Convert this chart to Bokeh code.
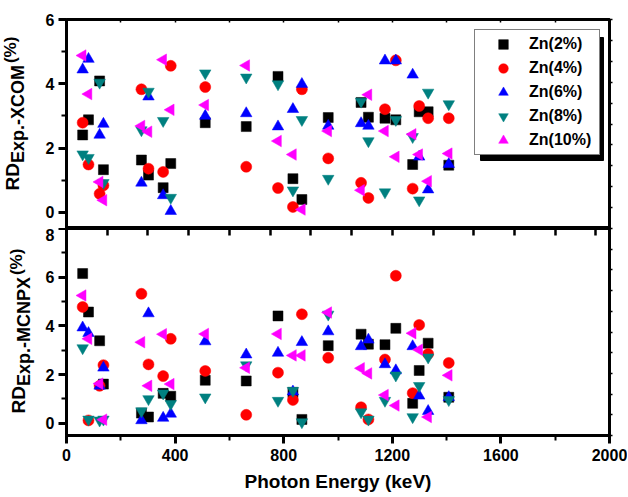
import numpy as np
from bokeh.plotting import figure
from bokeh.layouts import column, row
from bokeh.models import (Range1d, LinearAxis, FixedTicker, Legend, LegendItem,
                          BoxAnnotation)
from bokeh.core.properties import value
from bokeh.embed import file_html
from bokeh.resources import INLINE

# ---------------- data ----------------
energy = [59.5, 81, 122, 136, 276, 302, 356, 384, 511, 662, 779, 834, 867, 964,
          1085, 1112, 1173, 1213, 1275, 1299, 1332, 1408]

xcom_zn2 = [2.41, 2.88, 4.09, 1.33, 1.63, 1.16, 0.77, 1.52, 2.79, 2.67, 4.23, 1.05,
            0.40, 2.95, 3.42, 2.96, 2.93, 2.88, 1.49, 3.13, 3.13, 1.47]
xcom_zn4 = [2.79, 1.49, 0.58, 0.84, 3.83, 1.36, 1.26, 4.56, 3.90, 1.42, 0.76, 0.17,
            3.83, 1.68, 0.92, 0.45, 3.21, 4.73, 0.74, 3.31, 2.93, 2.93]
xcom_zn6 = [4.44, 4.77, 2.41, 2.75, 0.92, 3.60, 0.53, 0.04, 3.00, 3.08, 2.67, 3.21,
            3.99, 2.69, 2.77, 2.69, 4.72, 4.72, 4.28, 1.73, 0.71, 1.50]
xcom_zn8 = [1.81, 1.70, 4.04, 0.92, 2.56, 3.76, 2.85, 0.46, 4.33, 4.20, 3.99, 0.69,
            2.88, 1.05, 3.45, 2.22, 0.63, 2.88, 2.35, 0.38, 3.73, 3.37]
xcom_zn10 = [4.88, 3.68, 0.95, 0.38, 2.69, 2.51, 4.75, 3.19, 3.34, 4.57, 2.22, 1.80,
             0.09, 2.53, 0.69, 3.66, 2.53, 1.73, 2.43, 1.80, 0.97, 1.83]

mcnpx_zn2 = [6.15, 4.57, 3.39, 1.61, 0.42, 0.26, 1.23, 1.11, 1.77, 1.74, 4.41, 1.27,
             0.16, 3.19, 3.66, 3.25, 3.23, 3.90, 0.82, 2.17, 3.29, 1.07]
mcnpx_zn4 = [4.78, 0.12, 1.54, 2.39, 5.32, 2.42, 1.94, 3.47, 2.15, 0.35, 2.08, 0.96,
             4.48, 2.69, 0.66, 0.16, 2.62, 6.06, 1.24, 4.04, 2.85, 2.48]
mcnpx_zn6 = [3.93, 3.70, 1.54, 2.28, 0.12, 4.51, 0.22, 0.39, 3.36, 2.82, 2.89, 1.30,
             3.33, 3.77, 3.16, 3.43, 2.42, 2.17, 3.16, 1.13, 0.50, 1.07]
mcnpx_zn8 = [3.09, 0.16, 0.12, 0.16, 0.50, 1.00, 1.23, 0.80, 1.07, 2.39, 0.93, 1.34,
             0.05, 4.47, 0.46, 0.16, 0.93, 1.97, 0.26, 1.54, 2.71, 0.96]
mcnpx_zn10 = [5.25, 3.47, 1.63, 0.15, 3.33, 1.54, 3.66, 1.61, 3.67, 2.28, 3.67, 2.79,
              2.79, 4.55, 2.26, 2.05, 1.16, 0.73, 3.70, 3.02, 0.26, 1.97]

series_labels = ["Zn(2%)", "Zn(4%)", "Zn(6%)", "Zn(8%)", "Zn(10%)"]
x_ticks = [0, 400, 800, 1200, 1600, 2000]
x_minor = [200, 600, 1000, 1400, 1800]

# ---------------- style ----------------
FONT = "Liberation Sans"
colors = ["#000000", "#FF0000", "#0000FF", "#008080", "#FF00FF"]
markers = ["square", "circle", "triangle", "inverted_triangle", "triangle"]
angles = [0, 0, 0, 0, np.pi / 2]
sizes = [10, 11, 11.5, 11.5, 11.5]
LABEL_W = 42
MAIN_W = 585
TOP_H = 228
BOT_H = 268


def make_fig(height, ymin, ymax, btop, bbottom):
    p = figure(width=MAIN_W, height=height, x_range=Range1d(0, 2000),
               y_range=Range1d(ymin, ymax), x_axis_location=None,
               y_axis_location=None, toolbar_location=None, output_backend="svg",
               min_border_left=21, min_border_right=18, min_border_top=btop,
               min_border_bottom=bbottom)
    p.grid.visible = False
    p.outline_line_color = "black"
    p.outline_line_width = 3
    p.outline_line_alpha = 1
    p.background_fill_color = "white"
    p.border_fill_color = "white"
    return p


def axis(ticks, minor, tin=0, tout=0, min_in=0, min_out=0, width=3, minor_width=2):
    ax = LinearAxis(ticker=FixedTicker(ticks=ticks, minor_ticks=minor))
    ax.axis_line_width = 3
    ax.axis_line_color = "black"
    ax.major_tick_in = tin
    ax.major_tick_out = tout
    ax.minor_tick_in = min_in
    ax.minor_tick_out = min_out
    ax.major_tick_line_width = width
    ax.minor_tick_line_width = minor_width
    ax.major_tick_line_color = "black"
    ax.minor_tick_line_color = "black"
    ax.major_label_text_font = FONT
    ax.major_label_text_font_style = "bold"
    ax.major_label_text_font_size = "16px"
    ax.major_label_text_color = "black"
    return ax


def plain_ticks(positions, tin=0, tout=0, width=1.5):
    # tick marks only (minor ticks carry no labels)
    ax = LinearAxis(ticker=FixedTicker(ticks=[], minor_ticks=positions))
    ax.axis_line_width = 3
    ax.axis_line_color = "black"
    ax.major_tick_in = 0
    ax.major_tick_out = 0
    ax.minor_tick_in = tin
    ax.minor_tick_out = tout
    ax.minor_tick_line_width = width
    ax.minor_tick_line_color = "black"
    ax.major_label_standoff = 0
    return ax


# ---------------- top panel ----------------
top = make_fig(TOP_H, -0.5, 6, 19, 0)
ly = axis([0, 2, 4, 6], [1, 3, 5], tout=8, min_out=5)
ly.major_label_standoff = 4
top.add_layout(ly, "left")
top.add_layout(plain_ticks([0, 200, 400, 600, 800, 1000, 1200, 1400, 1600, 1800, 2000],
                           tin=3), "above")
top.add_layout(plain_ticks(list(np.round(-0.5 + 0.65 * np.arange(11), 3)), tout=3),
               "right")

top_vals = [xcom_zn2, xcom_zn4, xcom_zn6, xcom_zn8, xcom_zn10]
renderers = []
for vals, c, m, a, s in zip(top_vals, colors, markers, angles, sizes):
    r = top.scatter(energy, vals, marker=m, angle=a, size=s, fill_color=c,
                    line_color=c, line_width=0.5)
    renderers.append(r)

shadow = BoxAnnotation(left=414, right=537, bottom=68, top=191,
                       left_units="screen", right_units="screen",
                       bottom_units="screen", top_units="screen",
                       fill_color="black", fill_alpha=1, line_color="black",
                       line_alpha=1)
top.add_layout(shadow)
legend = Legend(items=[LegendItem(label=l, renderers=[r])
                       for l, r in zip(series_labels, renderers)],
                location=(408, 73), padding=2, spacing=0, margin=0,
                glyph_width=52, glyph_height=24, label_height=24, label_width=68,
                label_standoff=0, label_text_font=FONT, label_text_font_style="bold",
                label_text_font_size="16px", label_text_color="black",
                border_line_color="black", border_line_width=1.5,
                background_fill_color="white", background_fill_alpha=1)
top.add_layout(legend)

# ---------------- bottom panel ----------------
bot = make_fig(BOT_H, -0.5, 8, 0, 61)
xb = axis(x_ticks, x_minor, tout=8, min_out=5)
xb.major_label_standoff = 5
xb.axis_label = "Photon Energy (keV)"
xb.axis_label_text_font = FONT
xb.axis_label_text_font_style = "bold"
xb.axis_label_text_font_size = "19px"
xb.axis_label_text_color = "black"
xb.axis_label_standoff = 7
bot.add_layout(xb, "below")
lyb = axis([0, 2, 4, 6, 8], [1, 3, 5, 7], tout=8, min_out=5)
lyb.major_label_standoff = 4
bot.add_layout(lyb, "left")
bot.add_layout(plain_ticks([150, 300, 450, 600, 750, 900, 1050, 1200, 1350, 1500,
                            1650, 1800, 1950], tin=7, width=2.5), "above")
bot.add_layout(plain_ticks(list(np.round(-0.5 + 0.85 * np.arange(11), 3)), tout=3),
               "right")

bot_vals = [mcnpx_zn2, mcnpx_zn4, mcnpx_zn6, mcnpx_zn8, mcnpx_zn10]
for vals, c, m, a, s in zip(bot_vals, colors, markers, angles, sizes):
    bot.scatter(energy, vals, marker=m, angle=a, size=s, fill_color=c,
                line_color=c, line_width=0.5)

# ---------------- y-axis titles (one strip to the left of both panels) ----------------
H = TOP_H + BOT_H
lab = figure(width=LABEL_W, height=H, x_range=Range1d(0, LABEL_W),
             y_range=Range1d(0, H), toolbar_location=None, output_backend="svg",
             min_border=0, x_axis_location=None, y_axis_location=None)
lab.grid.visible = False
lab.outline_line_color = None
lab.background_fill_color = "white"
lab.border_fill_color = "white"
title_parts = [("RD", 12, 306, "19px"), ("Exp.-XCOM", 17, 333.4, "18px"),
               ("(%)", 10, 433.4, "17px"),
               ("RD", 18, 83, "19px"), ("Exp.-MCNPX", 23, 110.4, "18px"),
               ("(%)", 16, 221.4, "17px")]
for txt, x, y, fs in title_parts:
    lab.text(x=[x], y=[y], text=[txt], angle=np.pi / 2, text_font=value(FONT),
             text_font_style="bold", text_font_size=value(fs),
             text_align="left", text_baseline="alphabetic", text_color="black")

layout = row(lab, column(top, bot))
open("out.html", "w").write(file_html(layout, INLINE))
